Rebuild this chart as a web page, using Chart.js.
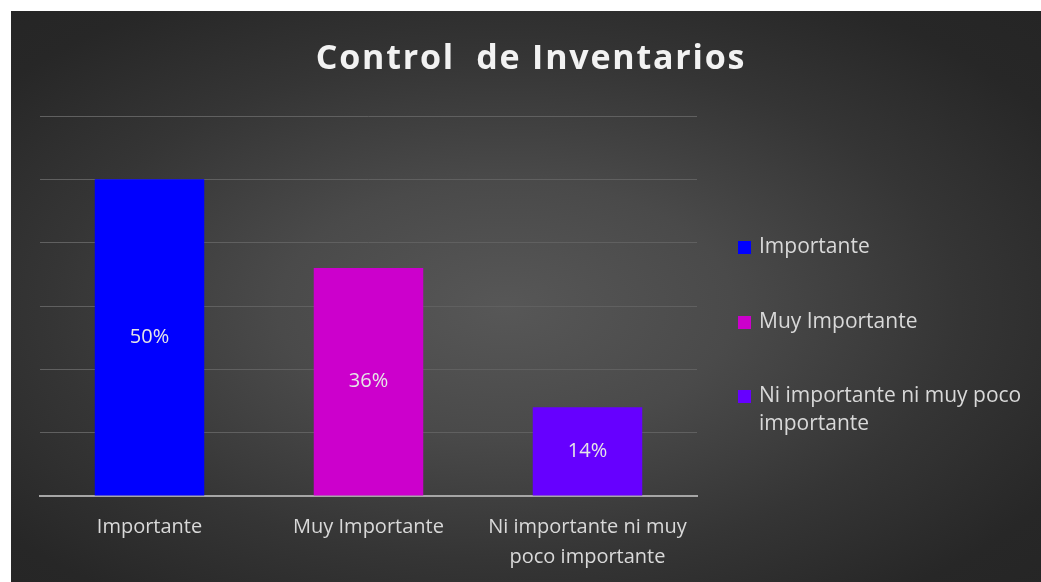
<!DOCTYPE html>
<html>
<head>
<meta charset="utf-8">
<script src="https://cdn.jsdelivr.net/npm/chart.js@4.4.1/dist/chart.umd.min.js"></script>
<style>
  html, body { margin: 0; padding: 0; background: #ffffff; }
  #wrap {
    position: absolute; left: 11px; top: 11px; width: 1030px; height: 571px;
    background: radial-gradient(ellipse farthest-corner at 48% 52%, #575757 0%, #4a4a4a 30%, #353535 60%, #272727 85%, #252525 100%);
  }
  canvas { display: block; }
</style>
</head>
<body>
<div id="wrap"><canvas id="c" width="1030" height="571"></canvas></div>
<script>
const title = "Control  de Inventarios";
const categories = [["Importante"], ["Muy Importante"], ["Ni importante ni muy", "poco importante"]];
const legendLabels = [["Importante"], ["Muy Importante"], ["Ni importante ni muy poco", "importante"]];
const values = [50, 36, 14];
const colors = ["#0000ff", "#cc00cc", "#6600ff"];
const yTicks = [0, 10, 20, 30, 40, 50, 60];

const FONT = "'Open Sans', 'Noto Sans', sans-serif";

const decor = {
  id: 'decor',
  afterDraw(chart) {
    const ctx = chart.ctx;
    ctx.save();
    // title
    ctx.font = "bold 34px " + FONT;
    ctx.letterSpacing = "1.8px";
    ctx.fillStyle = "#f2f2f2";
    ctx.textAlign = "center";
    ctx.textBaseline = "middle";
    ctx.fillText(title, 520, 48);
    ctx.letterSpacing = "0px";
    // legend
    ctx.font = "21px " + FONT;
    ctx.textAlign = "left";
    const ys = [236, 311, 385];
    legendLabels.forEach((lines, i) => {
      ctx.fillStyle = colors[i];
      ctx.fillRect(727, ys[i] - 6, 13, 13);
      ctx.fillStyle = "#d9d9d9";
      lines.forEach((t, j) => ctx.fillText(t, 748, ys[i] + j * 28));
    });
    // data labels
    const meta = chart.getDatasetMeta(0);
    ctx.font = "20px " + FONT;
    ctx.textAlign = "center";
    ctx.fillStyle = "#e6e6e6";
    meta.data.forEach((bar, i) => {
      const mid = (bar.y + bar.base) / 2;
      ctx.fillText(values[i] + "%", bar.x, mid);
    });
    ctx.restore();
  }
};

new Chart(document.getElementById('c'), {
  type: 'bar',
  data: {
    labels: categories,
    datasets: [{
      data: values,
      backgroundColor: colors,
      borderWidth: 0,
      categoryPercentage: 1,
      barPercentage: 0.5
    }]
  },
  options: {
    responsive: false,
    animation: false,
    devicePixelRatio: 1,
    layout: { padding: { left: 29, right: 344, top: 105, bottom: 0 } },
    plugins: { legend: { display: false }, title: { display: false }, tooltip: { enabled: false } },
    scales: {
      x: {
        grid: { display: false, drawTicks: false },
        border: { display: true, color: '#a6a6a6', width: 2 },
        ticks: {
          color: '#d9d9d9', padding: 16, maxRotation: 0, autoSkip: false,
          font: { family: FONT, size: 20, lineHeight: 1.5 }
        },
        afterFit(scale) { scale.height = 86; }
      },
      y: {
        min: 0, max: 60,
        afterBuildTicks(scale) { scale.ticks = yTicks.map(v => ({ value: v })); },
        grid: { color: '#606060', lineWidth: 1, drawTicks: false },
        border: { display: false },
        ticks: { display: false },
        afterFit(scale) { scale.width = 0; }
      }
    }
  },
  plugins: [decor]
});
</script>
</body>
</html>
